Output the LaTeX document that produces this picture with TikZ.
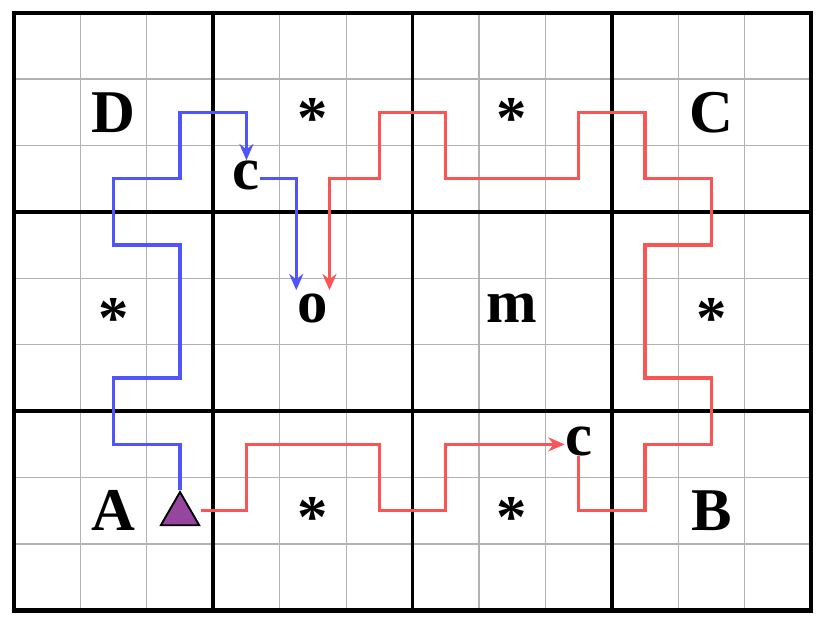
\documentclass[tikz,border=0pt]{standalone}
\usepackage{fontspec}
\setmainfont{Liberation Serif}
\usetikzlibrary{arrows.meta,shapes.geometric}
\definecolor{bl}{RGB}{80,85,250}
\definecolor{rd}{RGB}{250,85,85}
\definecolor{pu}{RGB}{150,70,160}
\begin{document}
\begin{tikzpicture}[x=1cm,y=1cm,
 lab/.style={font=\fontsize{26}{30}\selectfont\bfseries,inner sep=0pt},
 bpath/.style={draw=bl,line width=1.4pt,-{Stealth[length=7pt,width=6pt]}},
 rpath/.style={draw=rd,line width=1.4pt,-{Stealth[length=7pt,width=6pt]}}]
\useasboundingbox (-0.21,-0.226) rectangle (12.3,9.19);
\draw[gray!60,line width=0.5pt] (0,0) grid (12,9);
\foreach \x in {3,6,9} \draw[line width=1.5pt] (\x,0)--(\x,9);
\foreach \y in {3,6} \draw[line width=1.5pt] (0,\y)--(12,\y);
\draw[line width=1.8pt] (0,0) rectangle (12,9);
\node[lab] (D) at (1.5,7.5) {D};
\node[lab] (s1) at (4.5,7.4) {*};
\node[lab] (s2) at (7.5,7.4) {*};
\node[lab] (C) at (10.5,7.5) {C};
\node[lab] (c1) at (3.5,6.55) {c};
\node[lab] (s3) at (1.5,4.4) {*};
\node[lab] (o) at (4.5,4.55) {o};
\node[lab] (m) at (7.5,4.55) {m};
\node[lab] (s4) at (10.5,4.4) {*};
\node[lab] (c2) at (8.5,2.55) {c};
\node[lab] (A) at (1.5,1.5) {A};
\node[isosceles triangle,isosceles triangle apex angle=60,shape border rotate=90,draw=black,fill=pu,line width=0.8pt,minimum height=0.5cm,inner sep=0pt] (T) at (2.5,1.45) {};
\node[lab] (s5) at (4.5,1.4) {*};
\node[lab] (s6) at (7.5,1.4) {*};
\node[lab] (B) at (10.5,1.5) {B};
% blue
\draw[bpath] (T.apex) -- (2.5,2.5) -- (1.5,2.5) -- (1.5,3.5) -- (2.5,3.5) -- (2.5,5.5) -- (1.5,5.5) -- (1.5,6.5) -- (2.5,6.5) -- (2.5,7.5) -- (3.5,7.5) -- (c1.north);
\draw[bpath] (c1.east |- 0,6.5) -- (4.25,6.5) -- (4.25,4.82);
% red
\draw[rpath] (2.82,1.5) -- (3.5,1.5) -- (3.5,2.5) -- (5.5,2.5) -- (5.5,1.5) -- (6.5,1.5) -- (6.5,2.5) -- (c2.west |- 0,2.5);
\draw[rpath] (c2.south) -- (8.5,1.5) -- (9.5,1.5) -- (9.5,2.5) -- (10.5,2.5) -- (10.5,3.5) -- (9.5,3.5) -- (9.5,5.5) -- (10.5,5.5) -- (10.5,6.5) -- (9.5,6.5) -- (9.5,7.5) -- (8.5,7.5) -- (8.5,6.5) -- (6.5,6.5) -- (6.5,7.5) -- (5.5,7.5) -- (5.5,6.5) -- (4.75,6.5) -- (4.75,4.82);
\end{tikzpicture}
\end{document}
